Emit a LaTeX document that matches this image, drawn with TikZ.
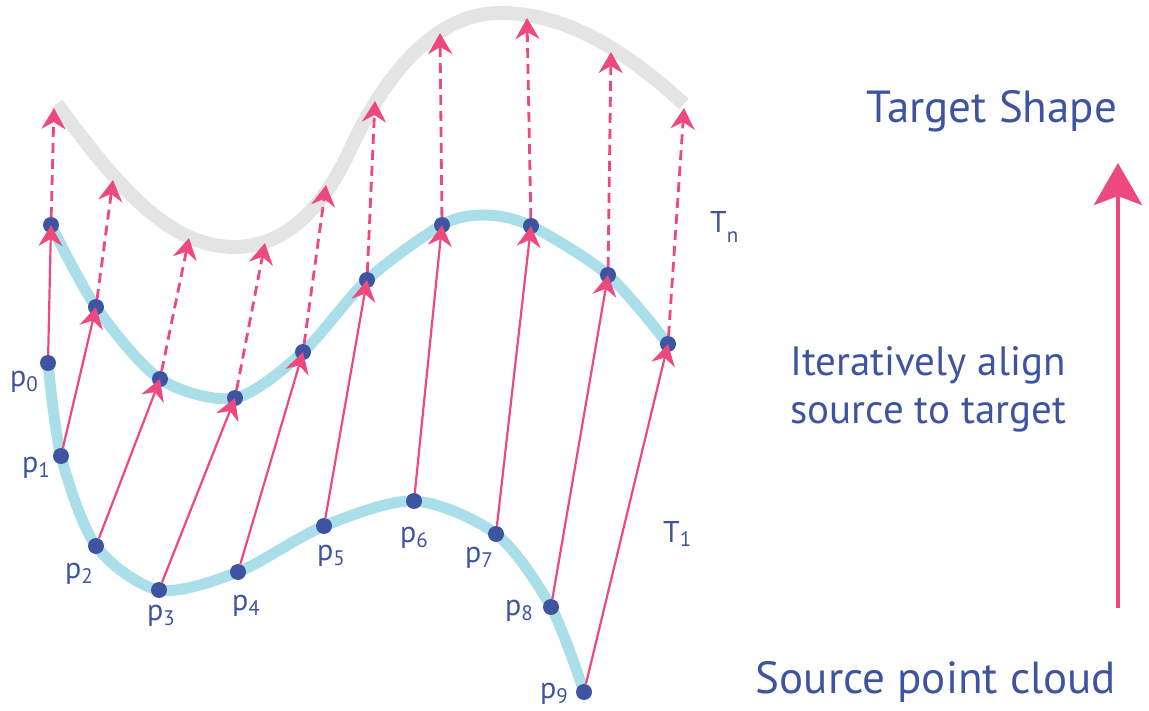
\documentclass[tikz,border=0pt]{standalone}
\usepackage{fontspec}
\setmainfont{PT Sans}
\usepackage{xcolor}
\usetikzlibrary{arrows.meta}
\definecolor{ptblue}{RGB}{62,84,160}
\definecolor{ptpink}{RGB}{238,73,125}
\definecolor{cloudblue}{RGB}{170,222,233}
\definecolor{shapegray}{RGB}{228,228,228}
\newcommand{\idx}[2]{\raisebox{#1}{\fontsize{21}{21}\selectfont #2}}

\begin{document}
\begin{tikzpicture}[
    x=1pt, y=-1pt,
    >={Stealth[length=21pt,width=24pt,inset=7pt]},
    pt/.style={circle, fill=ptblue, minimum size=16pt, inner sep=0pt},
    ptlabel/.style={anchor=base west, text=ptblue, inner sep=0pt,
                    font=\fontsize{30}{30}\selectfont},
    match/.style={->, draw=ptpink, line width=2.2pt},
    guess/.style={->, draw=ptpink, line width=2.8pt, dash pattern=on 10pt off 6pt},
    cloud/.style={draw=cloudblue, line width=11pt},
    target/.style={draw=shapegray, line width=14pt},
    caption/.style={text=ptblue, inner sep=0pt, font=\fontsize{45}{48}\selectfont}
  ]
  \useasboundingbox (0,0) rectangle (1149,711);

  % ===== CURVES =====
  \draw[target] (57,104) .. controls (120,190) and (170,247) .. (235,247)
    .. controls (280,247) and (320,215) .. (350,150)
    .. controls (380,85) and (430,13) .. (500,13)
    .. controls (570,13) and (630,55) .. (684,104);
  \draw[cloud] plot[smooth] coordinates {(51,225) (96,307) (160,379) (235,398)
    (303,352) (367,280) (442,225) (485,215) (531,226) (608,275) (668,344)};
  \draw[cloud] plot[smooth] coordinates {(48,363) (61,456) (96,546) (159,590)
    (238,572) (324,526) (414,501) (496,534) (551,607) (584,692)};

  % ===== SOURCE POINTS =====
  \node[pt] (p0) at (48,363) {};
  \node[pt] (p1) at (61,456) {};
  \node[pt] (p2) at (96,546) {};
  \node[pt] (p3) at (159,590) {};
  \node[pt] (p4) at (238,572) {};
  \node[pt] (p5) at (324,526) {};
  \node[pt] (p6) at (414,501) {};
  \node[pt] (p7) at (496,534) {};
  \node[pt] (p8) at (551,607) {};
  \node[pt] (p9) at (584,692) {};

  % ===== ALIGNED POINTS (T_n) =====
  \node[pt] (q0) at (51,225) {};
  \node[pt] (q1) at (96,307) {};
  \node[pt] (q2) at (160,379) {};
  \node[pt] (q3) at (235,398) {};
  \node[pt] (q4) at (303,352) {};
  \node[pt] (q5) at (367,280) {};
  \node[pt] (q6) at (442,225) {};
  \node[pt] (q7) at (531,226) {};
  \node[pt] (q8) at (608,275) {};
  \node[pt] (q9) at (668,344) {};

  % ===== NEXT GUESSES ON TARGET =====
  \coordinate (t0) at (54,108);
  \coordinate (t1) at (113,180);
  \coordinate (t2) at (189,238);
  \coordinate (t3) at (265,243);
  \coordinate (t4) at (326,185);
  \coordinate (t5) at (375,101);
  \coordinate (t6) at (440,33);
  \coordinate (t7) at (527,18);
  \coordinate (t8) at (611,52);
  \coordinate (t9) at (684,108);

  % ===== MATCHES: p -> T_n -> target =====
  \draw[match] (p0) -- (q0.center);
  \draw[match] (p1) -- (q1.center);
  \draw[match] (p2) -- (q2.center);
  \draw[match] (p3) -- (q3.center);
  \draw[match] (p4) -- (q4.center);
  \draw[match] (p5) -- (q5.center);
  \draw[match] (p6) -- (q6.center);
  \draw[match] (p7) -- (q7.center);
  \draw[match] (p8) -- (q8.center);
  \draw[match] (p9) -- (q9.center);

  \draw[guess] (q0) -- (t0);
  \draw[guess] (q1) -- (t1);
  \draw[guess] (q2) -- (t2);
  \draw[guess] (q3) -- (t3);
  \draw[guess] (q4) -- (t4);
  \draw[guess] (q5) -- (t5);
  \draw[guess] (q6) -- (t6);
  \draw[guess] (q7) -- (t7);
  \draw[guess] (q8) -- (t8);
  \draw[guess] (q9) -- (t9);

  % ===== LABELS =====
  \node[ptlabel] (l0) at (10,387)  {p\idx{-5pt}{0}};
  \node[ptlabel] (l1) at (22,472)  {p\idx{-5pt}{1}};
  \node[ptlabel] (l2) at (65,578)  {p\idx{-5pt}{2}};
  \node[ptlabel] (l3) at (147,620) {p\idx{-5pt}{3}};
  \node[ptlabel] (l4) at (232,610) {p\idx{-5pt}{4}};
  \node[ptlabel] (l5) at (317,560) {p\idx{-5pt}{5}};
  \node[ptlabel] (l6) at (400,542) {p\idx{-5pt}{6}};
  \node[ptlabel] (l7) at (465,562) {p\idx{-5pt}{7}};
  \node[ptlabel] (l8) at (505,615) {p\idx{-5pt}{8}};
  \node[ptlabel] (l9) at (540,698) {p\idx{-5pt}{9}};
  \node[ptlabel] (Tn) at (710,233) {T\idx{-10pt}{n}};
  \node[ptlabel] (T1) at (663,542) {T\idx{-4pt}{1}};

  % ===== CAPTIONS =====
  \node[caption, anchor=base] (target) at (992,123) {Target Shape};
  \node[caption, anchor=base west, align=left, font=\fontsize{41}{48}\selectfont]
    (iter) at (790,423) {Iteratively align\\source to target};
  \node[caption, anchor=base] (source) at (936,693) {Source point cloud};

  % big arrow source -> target
  \coordinate (up0) at (1118,608);
  \coordinate (up1) at (1118,163);
  \draw[-{Stealth[length=42pt,width=48pt,inset=9pt]}, draw=ptpink, line width=4.5pt]
    (up0) -- (up1);

\end{tikzpicture}
\end{document}
